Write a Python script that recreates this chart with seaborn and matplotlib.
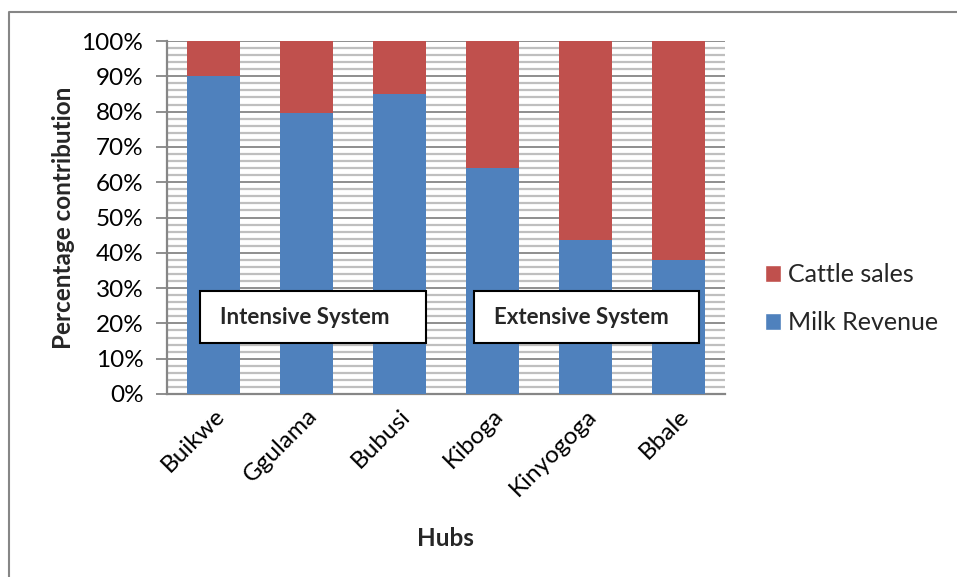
import matplotlib
matplotlib.use("Agg")
import matplotlib.pyplot as plt
import matplotlib.patches as mpatches
from matplotlib.lines import Line2D
from matplotlib.ticker import MultipleLocator, FuncFormatter
import seaborn as sns
import pandas as pd

hubs = ["Buikwe", "Ggulama", "Bubusi", "Kiboga", "Kinyogoga", "Bbale"]
milk_revenue = [90.0, 79.5, 85.0, 64.0, 43.5, 38.0]
cattle_sales = [10.0, 20.5, 15.0, 36.0, 56.5, 62.0]

BLUE = "#4F81BD"
RED = "#C0504D"

sns.set_theme(style="white")
plt.rcParams["font.family"] = ["Lato", "DejaVu Sans"]

df = pd.DataFrame({"Hub": hubs, "Milk Revenue": milk_revenue, "Cattle sales": cattle_sales})
df["Total"] = df["Milk Revenue"] + df["Cattle sales"]

fig = plt.figure(figsize=(9.57, 5.77), dpi=100)
ax = fig.add_axes([167 / 957, 1 - 394 / 577, 558 / 957, 353 / 577])

# stacked bars: full height in red, milk share in blue on top of it
sns.barplot(data=df, x="Hub", y="Total", color=RED, width=0.56, saturation=1,
            ax=ax, zorder=3, linewidth=0)
sns.barplot(data=df, x="Hub", y="Milk Revenue", color=BLUE, width=0.56, saturation=1,
            ax=ax, zorder=3, linewidth=0)

ax.set_ylim(0, 100)
ax.set_xlim(-0.5, len(hubs) - 0.5)
ax.yaxis.set_major_locator(MultipleLocator(10))
ax.yaxis.set_minor_locator(MultipleLocator(2))
ax.yaxis.set_major_formatter(FuncFormatter(lambda v, _: f"{v:.0f}%"))
ax.grid(axis="y", which="minor", color="#BFBFBF", linewidth=1.6, zorder=0)
ax.grid(axis="y", which="major", color="#868686", linewidth=1.3, zorder=1)
ax.set_axisbelow(True)

for s in ["top", "right"]:
    ax.spines[s].set_visible(False)
for s in ["left", "bottom"]:
    ax.spines[s].set_color("#868686")
    ax.spines[s].set_linewidth(1.6)

ax.tick_params(axis="y", which="major", direction="out", length=8, width=1.3,
               color="#868686", left=True, labelsize=17.5, pad=9, labelcolor="black")
ax.tick_params(axis="y", which="minor", length=0)
ax.tick_params(axis="x", length=0, labelsize=17.5, pad=8, labelcolor="black")
for lab in ax.get_xticklabels():
    lab.set_rotation(45)
    lab.set_ha("right")
    lab.set_rotation_mode("anchor")

ax.set_xlabel("")
fig.text(445 / 957, 1 - 538 / 577, "Hubs", ha="center", va="center",
         fontsize=17.5, fontweight="bold")
ax.set_ylabel("Percentage contribution", fontsize=17.5, fontweight="bold", labelpad=5)

# system annotation boxes
for (x0, x1, tx, label) in [(200, 426, 305, "Intensive System"),
                            (474, 699, 581, "Extensive System")]:
    ax0 = (x0 - 167) / 558
    w = (x1 - x0) / 558
    rect = mpatches.Rectangle((ax0, (394 - 343) / 353), w, 52 / 353,
                              transform=ax.transAxes, facecolor="white",
                              edgecolor="black", linewidth=1.5, zorder=5)
    ax.add_patch(rect)
    ax.text((tx - 167) / 558, (394 - 318) / 353, label, transform=ax.transAxes,
            ha="center", va="center", fontsize=16, fontweight="bold", zorder=6)

handles = [mpatches.Patch(facecolor=RED, label="Cattle sales"),
           mpatches.Patch(facecolor=BLUE, label="Milk Revenue")]
fig.legend(handles=handles, loc="center left", bbox_to_anchor=(742 / 957, 1 - 299 / 577),
           frameon=False, fontsize=18, handlelength=0.65, handleheight=0.65,
           handletextpad=0.3, labelspacing=1.0)

# outer chart frame
fig.add_artist(Line2D([9 / 957, 9 / 957, 1.0], [0.0, 1 - 12 / 577, 1 - 12 / 577],
                      transform=fig.transFigure, color="#868686", linewidth=1.5))

fig.savefig("out.png", dpi=100)
